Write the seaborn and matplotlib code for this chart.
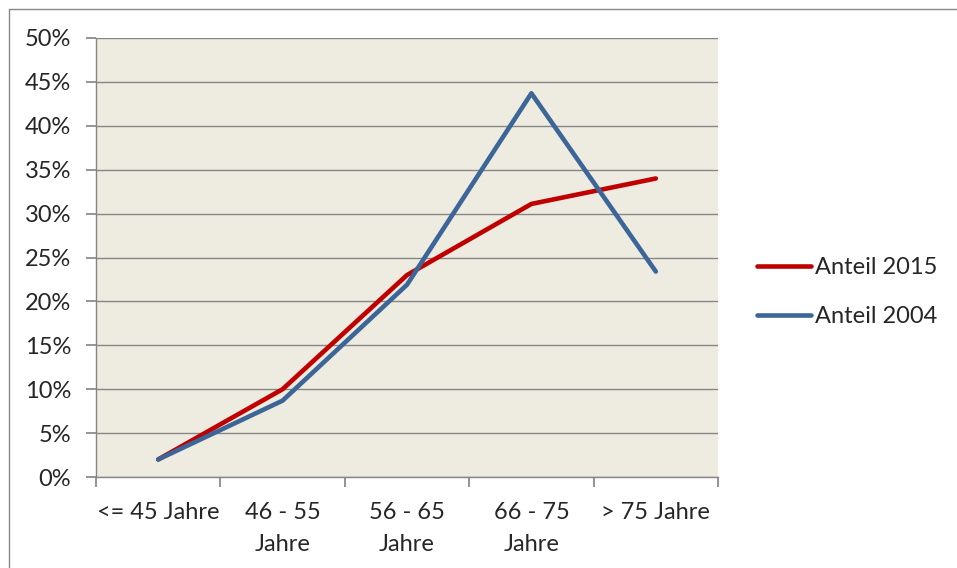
import matplotlib.pyplot as plt
import seaborn as sns
import pandas as pd
from matplotlib.lines import Line2D
from matplotlib.ticker import PercentFormatter, FixedLocator, NullFormatter

categories = ["<= 45 Jahre", "46 - 55\nJahre", "56 - 65\nJahre", "66 - 75\nJahre", "> 75 Jahre"]
anteil_2015 = [0.020, 0.100, 0.230, 0.311, 0.340]
anteil_2004 = [0.020, 0.087, 0.219, 0.437, 0.234]
series = ["Anteil 2015", "Anteil 2004"]
colors = ["#C00000", "#3C6598"]

df = pd.DataFrame({
    "x": list(range(len(categories))) * 2,
    "value": anteil_2015 + anteil_2004,
    "series": [series[0]] * len(categories) + [series[1]] * len(categories),
})

sns.set_theme(style="white")
plt.rcParams["font.family"] = ["Lato", "DejaVu Sans"]

fig = plt.figure(figsize=(9.57, 5.68), dpi=100)
ax = fig.add_axes([96 / 957, 1 - 477 / 568, (718 - 96) / 957, (477 - 38) / 568])

# outer chart frame (left and top edges visible in the crop)
fx, fy = 8.5 / 957, 1 - 8.5 / 568
fig.add_artist(Line2D([fx, fx], [0, fy], transform=fig.transFigure, color="#888888", linewidth=1.0))
fig.add_artist(Line2D([fx, 1], [fy, fy], transform=fig.transFigure, color="#888888", linewidth=1.0))

sns.lineplot(data=df, x="x", y="value", hue="series", palette=colors,
             linewidth=3.3, ax=ax, legend=False)
for ln in ax.lines:
    ln.set_solid_capstyle("round")
    ln.set_solid_joinstyle("round")

ax.set_facecolor("#EEEBE0")
ax.set_xlim(-0.5, len(categories) - 0.5)
ax.set_ylim(0, 0.5)
ax.yaxis.set_major_locator(FixedLocator([i * 0.05 for i in range(11)]))
ax.yaxis.set_major_formatter(PercentFormatter(1.0, decimals=0))
ax.grid(axis="y", color="#868686", linewidth=1.0)
ax.set_axisbelow(True)

ax.xaxis.set_major_locator(FixedLocator([i - 0.5 for i in range(len(categories) + 1)]))
ax.xaxis.set_major_formatter(NullFormatter())
ax.set_xticks(range(len(categories)), minor=True)
ax.set_xticklabels(categories, minor=True, fontsize=17, linespacing=1.65)
ax.tick_params(axis="x", which="minor", length=0, pad=18)
ax.tick_params(axis="x", which="major", length=7, color="#868686", direction="out", bottom=True)
ax.tick_params(axis="y", length=7, color="#868686", direction="out", labelsize=17, pad=11, left=True)

for side in ["top", "right"]:
    ax.spines[side].set_visible(False)
for side in ["left", "bottom"]:
    ax.spines[side].set_color("#868686")
    ax.spines[side].set_linewidth(1.0)

ax.set_xlabel("")
ax.set_ylabel("")

handles = [Line2D([], [], color=c, linewidth=3.3, solid_capstyle="round") for c in colors]
fig.legend(handles, series, loc="center left", bbox_to_anchor=(757 / 957, 1 - 292 / 568),
           frameon=False, fontsize=17, handlelength=2.3, handletextpad=0.15, labelspacing=1.2,
           borderaxespad=0, borderpad=0)

fig.savefig("out.png", dpi=100)
